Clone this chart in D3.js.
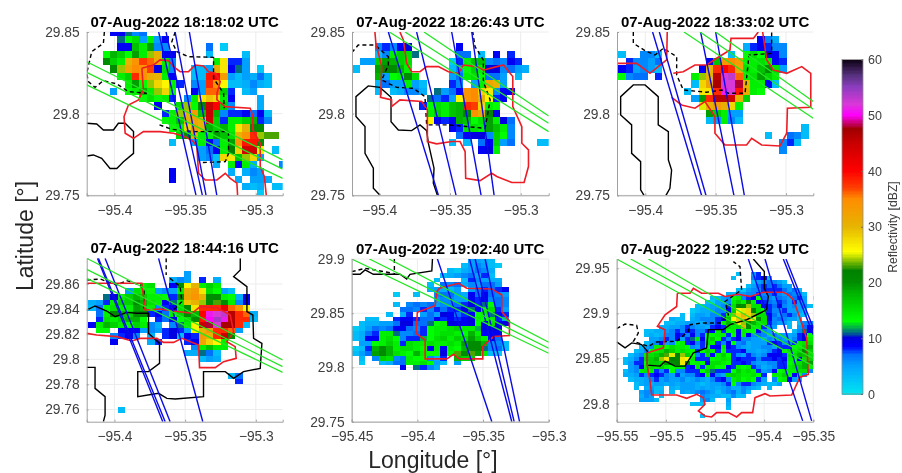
<!DOCTYPE html>
<html>
<head>
<meta charset="utf-8">
<script src="https://cdn.jsdelivr.net/npm/d3@7"></script>
<style>
  html, body { margin: 0; background: #fff; }
  svg { display: block; filter: blur(0.35px); }
  text { font-family: "Liberation Sans", Arial, sans-serif; }
</style>
</head>
<body>
<svg id="chart" width="902" height="473"></svg>
<script>
const _ = null;

const titles = [
  "07-Aug-2022 18:18:02 UTC", "07-Aug-2022 18:26:43 UTC", "07-Aug-2022 18:33:02 UTC",
  "07-Aug-2022 18:44:16 UTC", "07-Aug-2022 19:02:40 UTC", "07-Aug-2022 19:22:52 UTC"
];
const lonRanges = [[-95.4196, -95.281], [-95.4193, -95.2802], [-95.4201, -95.2806],
  [-95.4196, -95.281], [-95.45, -95.3], [-95.55, -95.35]];
const latRanges = [[29.75, 29.85], [29.75, 29.85], [29.75, 29.85],
  [29.7503, 29.8805], [29.75, 29.9], [29.78, 29.9603]];
const lonTicks = [[-95.4, -95.35, -95.3], [-95.4, -95.35, -95.3], [-95.4, -95.35, -95.3],
  [-95.4, -95.35, -95.3], [-95.45, -95.4, -95.35, -95.3], [-95.55, -95.5, -95.45, -95.4, -95.35]];
const latTicks = [[29.75, 29.8, 29.85], [29.75, 29.8, 29.85], [29.75, 29.8, 29.85],
  [29.76, 29.78, 29.8, 29.82, 29.84, 29.86], [29.75, 29.8, 29.85, 29.9], [29.8, 29.85, 29.9, 29.95]];

// radar grid spacing in degrees, and the north-west corner of each panel's grid
const cellLon = 0.0052;
const cellLat = 0.0045;
const gridLon = [-95.4083, -95.4186, -95.4244, -95.4184, -95.45, -95.5432];
const gridLat = [29.852, 29.852, 29.852, 29.8701, 29.9009, 29.946];

// reflectivity in dBZ, one row per latitude: first entry is the starting column
const dbz1 = [
  [1,9,9,11,6,7],
  [2,11,13,15,5,14,5,9],
  [2,9,9,17,14,19,6,6,_,_,_,_,_,7,_,2],
  [0,13,18,16,13,19,14,24,30,9,9,_,_,_,_,3,_,_,_,_,3],
  [0,20,16,14,30,34,37,36,31,14,6,_,_,_,_,_,14,27,8,8,5],
  [1,20,24,32,35,34,37,10,15,6,_,_,3,3,5,31,27,9,11,5,_,2],
  [2,14,16,38,34,31,30,14,9,_,_,3,3,39,40,33,5,3,5,4,7,3],
  [3,14,19,13,24,28,26,14,8,_,6,5,38,34,26,3,3,4,6,4,3],
  [1,5,_,13,14,18,14,24,28,13,_,_,9,5,36,36,16,8,_,3,5],
  [5,13,15,13,14,8,_,6,14,27,29,28,14,9,_,_,_,4],
  [7,9,_,_,15,24,13,21,45,40,16,6,_,_,_,4],
  [8,8,14,24,30,33,17,45,18,6,8,8,9,7,9,3],
  [8,13,14,17,30,32,30,44,16,8,14,14,16,18,8,6],
  [9,13,14,28,33,30,18,16,18,14,27,30,20,20],
  [10,16,20,31,14,14,19,17,15,30,34,38,24,23,23],
  [9,3,_,_,5,14,9,7,14,19,34,39,39,20],
  [13,5,7,9,14,22,28,44,44,26,_,3],
  [13,5,6,3,28,27,17,24,28,5],
  [15,4,_,14,9,14,4,_,_,_,6],
  [9,9,_,_,_,_,_,_,_,4,_,4,6,5],
  [9,9,_,_,_,_,_,_,_,_,4,_,5,5,4],
  [19,4,3,4,_,3,3],
  [21,2]
];
const dbz2 = [
  [], [],
  [3,6,8,6,9,10,_,_,_,_,_,_,9],
  [3,3,6,14,16,15,11,_,_,_,_,_,7,7,_,3,_,9,_,8],
  [1,5,5,16,19,18,16,15,_,_,_,_,_,2,8,14,17,17,6,7,6,9,8],
  [0,3,_,_,19,21,20,18,14,_,_,_,_,_,3,6,13,16,14,10,10,6,7,5,4],
  [3,18,5,13,14,20,15,_,_,_,_,5,7,14,15,13,7,7,5,_,3],
  [3,3,7,5,5,14,5,3,_,_,_,8,6,_,5,14,32,30,5],
  [3,3,_,3,4,6,6,4,_,11,5,7,9,34,35,28,27,6,9,9],
  [10,11,7,8,5,26,34,35,30,26,8,9],
  [9,8,13,15,14,17,18,38,37,28,14,13],
  [10,14,16,14,17,18,21,34,31,21,10],
  [10,26,9,8,9,18,17,13,15,19,14,10,7],
  [13,9,8,15,15,14,19,17,14,6],
  [14,7,9,10,10,6,16,13,6],
  [13,3,_,3,_,7,9,16,5,7,_,_,_,3,3],
  [17,9,10,14]
];
const dbz3 = [
  [],
  [20,9,6,4],
  [18,4,8,9,8,6,6],
  [1,3,_,_,6,6,3,_,_,_,_,_,_,_,_,_,3,_,13,15,13,10,9,6],
  [2,8,6,6,5,7,_,_,_,_,_,_,9,17,34,35,33,14,14,15,14,9,8],
  [1,9,8,5,6,5,3,_,_,_,_,_,9,30,38,40,38,32,15,14,17,20,15,5],
  [1,13,6,7,7,_,8,_,_,_,_,14,24,30,46,52,53,36,14,15,19,16,14],
  [11,3,28,32,47,52,52,48,30,14,14,9,3],
  [10,3,_,27,27,38,51,52,39,31,14,13],
  [11,5,19,38,46,46,44,30,16],
  [12,25,30,33,31,28,14],
  [13,19,16,14,5,5],
  [13,3,5,14,6,3],
  [26,3],
  [21,3,_,_,7,6,3],
  [23,6,8,3],
  [23,6]
];
const dbz4 = [
  [13,5],
  [11,4,6,5,_,8,_,4],
  [7,14,15,_,_,9,20,26,30,14,16,14],
  [5,5,15,14,13,5,6,5,14,31,33,27,15,13,5,3],
  [2,11,10,14,16,18,16,14,14,13,8,20,32,34,30,20,20,14,13,4,9],
  [0,4,5,8,14,16,16,20,18,15,14,9,11,14,29,30,24,20,23,20,14,6,9],
  [0,3,7,13,15,14,14,19,18,14,6,8,9,15,20,27,38,38,38,42,36,34,26],
  [1,7,14,20,18,16,20,20,8,9,7,14,16,20,18,40,51,52,53,46,38,36,4],
  [1,8,15,14,16,18,18,13,_,8,7,9,13,15,20,39,50,54,51,46,38,38,3],
  [0,9,14,18,16,14,13,16,14,6,4,_,6,11,14,26,45,48,52,47,47,38,3],
  [1,13,13,_,9,9,9,5,6,5,8,10,8,5,26,30,34,38,38,36,5],
  [3,6,8,9,6,_,4,_,8,10,3,9,8,33,30,38,45,20],
  [3,9,_,_,_,_,4,8,_,_,_,8,9,32,28,26,14],
  [14,6,14,17,14,14],
  [13,4,4,11,7,3],
  [15,3,5,4],
  [], [],
  [19,3,7],
  [20,8],
  [], [], [], [],
  [4,3]
];
const dbz5 = [
  [17,5,5,4,3],
  [16,3,5,6,5,3,2],
  [14,3,2,4,5,7,6,4],
  [13,3,4,5,6,7,5,8,3],
  [12,3,_,_,_,3,8,6,5,4,4],
  [11,3,_,7,6,7,4,6,5,7,7,5],
  [11,4,5,4,3,5,_,5,7,8,7,8,9],
  [6,2,_,_,3,_,_,6,7,7,5,4,9,7,9,7,6,5],
  [12,5,6,6,5,5,9,8,9,6,7,6],
  [6,3,_,6,7,6,7,5,6,6,7,8,10,8,11,13,7,6],
  [7,7,7,6,8,6,8,7,8,8,10,11,9,14,15,8,5],
  [5,3,_,4,8,_,5,7,5,10,9,7,8,9,13,14,11,9,8],
  [2,3,3,_,_,8,9,9,8,7,7,9,8,9,8,9,10,14,13,14,8,5],
  [1,3,4,4,5,5,7,10,10,7,7,11,13,14,10,10,9,10,13,10,15,9,10],
  [0,2,3,5,7,6,7,9,9,7,6,8,13,14,14,15,16,14,14,12,10,10,10],
  [0,3,4,7,8,14,14,11,6,6,7,8,13,14,15,15,14,13,18,14,9,9,9],
  [0,3,4,9,9,14,15,13,6,8,8,12,13,15,16,14,16,15,19,16,14,9,7],
  [1,5,5,13,14,16,14,8,15,14,14,15,14,14,15,14,19,20,20,18,6,6,3],
  [0,2,3,8,18,20,18,14,15,15,14,13,9,14,9,14,13,18,20,20,11,6,7,3],
  [0,3,5,7,19,20,18,15,14,13,18,14,13,13,10,13,23,20,23,19,14,3,2],
  [1,3,_,6,16,15,6,7,14,13,13,6,4,8,_,18,16,16],
  [1,2,_,_,3,4,7,7,14,14,15,13,5,3,_,5],
  [7,9,_,11,8,6,4]
];
const dbz6 = [
  [22,3,_,_,5,8],
  [21,3,_,_,_,6,8,9,3],
  [25,3,5,6,7,6,5,3],
  [24,3,5,7,8,7,8,7,5,5],
  [22,3,2,5,6,6,8,8,8,8,7,5,7,3],
  [20,4,3,5,5,6,6,8,6,7,8,6,5,7,6,6,3],
  [17,3,3,5,6,13,14,6,8,9,13,7,6,5,7,6,5,7,8,5,_,3],
  [16,3,2,5,5,6,14,16,14,20,14,9,8,7,6,8,7,5,8,5,5],
  [14,3,3,4,5,5,6,8,15,21,20,24,15,15,9,8,7,9,6,5,6,5,6,3],
  [13,2,3,4,4,5,6,6,9,16,26,25,28,22,15,13,8,6,6,8,5,5,5,3],
  [11,3,_,3,5,5,4,6,6,8,14,24,28,30,28,24,15,15,9,7,5,7,8,6,3,3],
  [9,4,3,3,_,4,5,6,6,6,8,9,17,26,29,29,28,27,20,15,9,6,7,6,5,5,3],
  [8,3,3,4,4,5,5,4,4,6,6,8,14,18,16,27,24,21,18,15,15,8,6,5,5,3,_,3,6,6,4],
  [7,4,4,5,5,6,8,6,5,5,4,8,9,8,15,14,15,30,20,14,14,8,6,5,_,_,3,_,5,7,9,10],
  [4,3,3,4,4,5,6,8,6,9,8,6,6,8,9,14,8,13,14,9,14,13,13,9,6,5,_,_,_,_,3,6,11,9,11],
  [4,3,4,3,4,6,6,9,8,6,9,6,8,14,13,14,14,8,13,9,14,9,6,7,6,4,6,5,5,4,5,8,10,13,14],
  [5,5,5,6,8,6,9,5,8,11,14,9,14,16,13,8,6,8,9,6,6,5,5,4,6,5,6,5,4,6,8,10,14,13],
  [4,3,5,6,9,5,6,13,14,8,9,6,8,15,14,8,6,9,13,6,7,4,5,5,5,8,9,8,6,6,8,14,15,15,13],
  [3,3,5,6,14,14,13,15,14,14,13,6,5,8,13,9,9,14,9,8,6,5,4,5,5,6,6,5,8,8,8,13,14,16,18,14],
  [2,3,4,6,13,14,15,18,16,14,15,14,13,8,13,16,14,8,13,8,8,8,9,5,5,4,5,6,8,9,13,15,14,16,21,16,13],
  [1,3,5,6,14,15,16,18,23,25,22,24,16,13,6,8,15,9,14,16,13,8,6,5,8,6,5,6,9,9,9,8,15,15,18,17,15,9],
  [0,3,4,6,8,15,16,18,24,27,22,21,27,26,14,8,8,8,13,14,15,14,8,9,8,8,8,6,8,8,9,8,9,14,13,9,15,16,8],
  [0,3,5,8,8,13,16,16,15,19,20,21,27,21,13,14,13,9,15,15,14,13,8,8,9,8,6,5,5,6,6,8,8,13,14,15,18,19,13],
  [1,5,6,9,14,15,14,16,14,13,14,14,8,9,14,8,14,15,13,13,9,8,14,13,14,8,6,4,5,6,8,8,14,15,16,18,14,5],
  [0,3,5,6,14,15,14,8,6,8,13,6,6,8,8,8,13,16,11,8,8,8,13,16,14,15,14,8,5,6,9,13,14,14,14,15,15,6],
  [0,4,4,5,8,6,8,9,8,6,5,8,5,6,6,8,9,14,9,6,5,15,16,15,14,14,15,13,8,_,14,14,16,13,9,13,6],
  [1,3,4,4,5,6,8,5,6,5,5,6,4,5,6,5,4,6,8,9,6,14,15,13,14,13,8,5,_,6,13,14,9,5,3],
  [2,3,4,5,4,5,5,4,5,4,5,5,5,4,3,4,5,5,6,8,13,6,8,8,6,5,4,3,3,5],
  [2,3,_,4,5,3,3,_,4,3,5,5,5,4,5,4,5,4,5,6,4,4,6,5,4,3,_,3],
  [3,5,6,6,3,4,_,3,_,5,4,5,6,7,6,5,3,5,6,7,4,6,3],
  [3,4,6,5,_,3,_,_,_,_,_,_,_,6,5,4,4,3,3,6,3,3],
  [3,5,5,5,3,_,_,_,_,_,_,_,_,5,6,3,_,_,5],
  [13,3,3,3,_,_,_,_,4],
  [20,3],
  [],
  [15,3]
];

// overlay traces as [lon, lat] vertices: blue and green tracks, red and black outlines
const blue1 = [[[-95.3687,29.85],[-95.3423,29.75]], [[-95.3635,29.85],[-95.3378,29.75]],
  [[-95.3571,29.85],[-95.3352,29.75]], [[-95.347,29.85],[-95.3276,29.75]]];
const green1 = [[[-95.4196,29.8318],[-95.281,29.7717]], [[-95.4196,29.8253],[-95.281,29.766]],
  [[-95.4196,29.8176],[-95.281,29.7604]]];
const red1 = [[[-95.3806,29.8278],[-95.3724,29.8298],[-95.3677,29.8329],[-95.3618,29.8325],[-95.3582,29.8288],[-95.3535,29.8257],[-95.3476,29.8257],[-95.3429,29.8298],[-95.337,29.8292],[-95.3334,29.8257],[-95.3287,29.8247],[-95.3252,29.8196],[-95.3275,29.8125],[-95.3275,29.8084],[-95.3216,29.8043],[-95.304,29.8033],[-95.3021,29.7982],[-95.3021,29.79],[-95.2969,29.7819],[-95.2969,29.7676],[-95.294,29.7615],[-95.2926,29.75]],
  [[-95.3129,29.75],[-95.3134,29.7574],[-95.3181,29.7604],[-95.3216,29.7635],[-95.3275,29.7594],[-95.3358,29.7594],[-95.3405,29.7635],[-95.3417,29.7798],[-95.3441,29.7829],[-95.35,29.7859],[-95.3582,29.788],[-95.3677,29.789],[-95.3795,29.789],[-95.3865,29.7849],[-95.3924,29.788],[-95.3932,29.7982],[-95.3901,29.8053],[-95.383,29.8084],[-95.3795,29.8145],[-95.3806,29.8278]]];
const black1 = [[[-95.4196,29.7941],[-95.4125,29.7937],[-95.4078,29.79],[-95.4007,29.79],[-95.3972,29.7941],[-95.3924,29.7941],[-95.3865,29.789],[-95.3865,29.7757],[-95.3936,29.7706],[-95.3983,29.7664],[-95.4031,29.7664],[-95.409,29.7727],[-95.4149,29.7747],[-95.4196,29.7741]]];
const dashed1 = [[[-95.4071,29.85],[-95.4078,29.8431],[-95.416,29.838],[-95.4196,29.8247],[-95.4184,29.8196],[-95.4137,29.8161],[-95.4078,29.8202],[-95.3983,29.8182],[-95.3901,29.8135],[-95.3771,29.8125]],
  [[-95.357,29.85],[-95.3594,29.8441],[-95.3559,29.838],[-95.3476,29.8349],[-95.3299,29.8345],[-95.3299,29.8216],[-95.3228,29.8125],[-95.3224,29.8033]],
  [[-95.3681,29.7931],[-95.3594,29.7904],[-95.3441,29.789],[-95.3193,29.789],[-95.3193,29.7757],[-95.3216,29.7706],[-95.3393,29.77]]];

const blue2 = [[[-95.3936,29.85],[-95.3582,29.75]], [[-95.3736,29.85],[-95.3457,29.75]],
  [[-95.3488,29.85],[-95.328,29.75]], [[-95.3346,29.85],[-95.3188,29.75]]];
const green2 = [[[-95.3929,29.85],[-95.2802,29.789]], [[-95.3818,29.85],[-95.2802,29.7941]],
  [[-95.3684,29.85],[-95.2802,29.7986]]];
const red2 = [[[-95.4031,29.85],[-95.4024,29.8431],[-95.3983,29.8288],[-95.3991,29.81],[-95.3913,29.8084],[-95.3913,29.8043],[-95.3854,29.8084],[-95.37,29.8074],[-95.366,29.8023],[-95.366,29.7829],[-95.3594,29.7815],[-95.3488,29.7829],[-95.3429,29.7829],[-95.3393,29.7768],[-95.3389,29.7604],[-95.3287,29.759],[-95.3205,29.7635],[-95.3169,29.7615],[-95.3063,29.7578],[-95.2976,29.7578],[-95.2945,29.7676],[-95.2945,29.7778],[-95.2992,29.7819],[-95.2992,29.7921],[-95.3056,29.8043],[-95.3056,29.8227],[-95.3122,29.8298],[-95.3264,29.8267],[-95.3311,29.8288],[-95.3405,29.8298],[-95.3441,29.8247],[-95.3511,29.8257],[-95.3582,29.8288],[-95.3665,29.8288],[-95.3712,29.8257],[-95.3771,29.8257],[-95.3806,29.8308],[-95.383,29.8451],[-95.3854,29.85]]];
const black2 = [[[-95.3995,29.75],[-95.4042,29.7543],[-95.4042,29.7666],[-95.4101,29.7757],[-95.4101,29.7921],[-95.4165,29.7982],[-95.4165,29.8104],[-95.4078,29.817],[-95.3995,29.8161],[-95.3917,29.81],[-95.3917,29.7951],[-95.3865,29.79],[-95.3771,29.7896],[-95.3712,29.7931],[-95.3665,29.7896],[-95.3653,29.7819],[-95.3613,29.7666],[-95.3618,29.7574],[-95.3589,29.75]]];
const dashed2 = [[[-95.4194,29.8374],[-95.4149,29.842],[-95.4031,29.842],[-95.3936,29.8349],[-95.3936,29.8298],[-95.3983,29.8206],[-95.3877,29.8161],[-95.3759,29.8155],[-95.3677,29.8104],[-95.3665,29.7931],[-95.3511,29.7931],[-95.3382,29.7921],[-95.3252,29.791],[-95.3216,29.8084],[-95.3264,29.8196],[-95.3264,29.8329],[-95.3323,29.841],[-95.3339,29.85]]];

const blue3 = [[[-95.3948,29.85],[-95.36,29.75]], [[-95.39,29.85],[-95.3569,29.75]],
  [[-95.3607,29.85],[-95.337,29.75]], [[-95.35,29.85],[-95.3296,29.75]]];
const green3 = [[[-95.3725,29.85],[-95.2806,29.7972]], [[-95.3611,29.85],[-95.2806,29.8027]],
  [[-95.35,29.85],[-95.2806,29.8074]]];
const red3 = [[[-95.4201,29.8308],[-95.4062,29.8308],[-95.3967,29.8247],[-95.3908,29.8288],[-95.3848,29.8329],[-95.3844,29.85]],
  [[-95.3801,29.8247],[-95.373,29.8257],[-95.3647,29.8298],[-95.3564,29.8298],[-95.3493,29.8339],[-95.3398,29.839],[-95.3391,29.8461],[-95.3232,29.8461],[-95.3197,29.85]],
  [[-95.3166,29.85],[-95.3137,29.8329],[-95.309,29.8267],[-95.2995,29.8247],[-95.2888,29.8288],[-95.2824,29.8247],[-95.2824,29.8039],[-95.299,29.8033],[-95.2995,29.788],[-95.3043,29.7802],[-95.3173,29.7808],[-95.3244,29.7849],[-95.328,29.7808],[-95.3434,29.7808],[-95.3505,29.788],[-95.3505,29.7982],[-95.3576,29.8074],[-95.3647,29.8033],[-95.3742,29.8053],[-95.3813,29.81]]];
const black3 = [[[-95.4009,29.75],[-95.4033,29.7533],[-95.4033,29.7706],[-95.4097,29.7757],[-95.4097,29.7931],[-95.4175,29.7992],[-95.4175,29.8104],[-95.4085,29.8176],[-95.4002,29.8176],[-95.3908,29.8104],[-95.3908,29.7931],[-95.3836,29.789],[-95.3836,29.7717],[-95.3813,29.7655],[-95.3825,29.7543],[-95.3853,29.75]]];
const dashed3 = [[[-95.4085,29.85],[-95.4085,29.8431],[-95.4002,29.8386],[-95.3931,29.8359],[-95.3872,29.84],[-95.3777,29.8349],[-95.3777,29.8237],[-95.373,29.8145],[-95.3564,29.8131],[-95.3457,29.8145],[-95.341,29.8125],[-95.3291,29.8125],[-95.3263,29.8359],[-95.3102,29.8369],[-95.3102,29.85]]];

const blue4 = [[[-95.412,29.8805],[-95.3658,29.7503]], [[-95.4113,29.8805],[-95.3641,29.7503]],
  [[-95.4066,29.8805],[-95.3606,29.7503]], [[-95.3688,29.8805],[-95.3375,29.7503]]];
const green4 = [[[-95.4196,29.8805],[-95.281,29.7995]], [[-95.4196,29.8717],[-95.281,29.7942]],
  [[-95.4196,29.8645],[-95.281,29.7896]]];
const red4 = [[[-95.4196,29.8606],[-95.3806,29.8606],[-95.3783,29.8393],[-95.3677,29.8401],[-95.3582,29.8385],[-95.3452,29.8367],[-95.3393,29.842],[-95.3275,29.8412],[-95.3181,29.8353],[-95.3157,29.822],[-95.3205,29.8141],[-95.3146,29.8101],[-95.3139,29.8008],[-95.3228,29.7981],[-95.3287,29.7934],[-95.3398,29.7934],[-95.3405,29.8114],[-95.3523,29.8167],[-95.3582,29.8135],[-95.3653,29.8135],[-95.37,29.8167],[-95.3818,29.8167],[-95.3877,29.8146],[-95.3983,29.8181],[-95.4125,29.8194],[-95.4196,29.8207]]];
const black4 = [[[-95.311,29.8805],[-95.311,29.8712],[-95.3157,29.8659],[-95.3063,29.8579],[-95.3063,29.838],[-95.3021,29.8353],[-95.3016,29.8167],[-95.2957,29.8127],[-95.2969,29.7928],[-95.3087,29.7902],[-95.3157,29.7849],[-95.3216,29.7902],[-95.337,29.7902],[-95.337,29.7703],[-95.357,29.7684],[-95.3629,29.7689],[-95.3688,29.7729],[-95.3835,29.7703],[-95.3835,29.7902],[-95.3759,29.7902],[-95.3681,29.7968],[-95.3681,29.8127],[-95.3759,29.8207],[-95.3759,29.8367],[-95.3842,29.8367],[-95.3913,29.8374],[-95.3995,29.834],[-95.4054,29.8385],[-95.4137,29.8425],[-95.4196,29.8393]],
  [[-95.4196,29.7936],[-95.4137,29.7936],[-95.4137,29.7769],[-95.4066,29.7703],[-95.4066,29.7556],[-95.4078,29.7503]]];
const dashed4 = [[[-95.3634,29.8805],[-95.3634,29.8672]],
  [[-95.4196,29.8632],[-95.4101,29.864],[-95.3983,29.8592],[-95.3913,29.8627],[-95.3818,29.8592],[-95.379,29.8552],[-95.379,29.8393]],
  [[-95.3606,29.8645],[-95.3535,29.8579],[-95.3523,29.846],[-95.3582,29.8393]]];

const blue5 = [[[-95.3847,29.9],[-95.3433,29.75]], [[-95.3603,29.9],[-95.3281,29.75]],
  [[-95.356,29.9],[-95.3263,29.75]], [[-95.3484,29.9],[-95.3222,29.75]]];
const green5 = [[[-95.45,29.9],[-95.3,29.8131]], [[-95.4365,29.9],[-95.3,29.8177]],
  [[-95.4216,29.9],[-95.3,29.8233]]];
const red5 = [[[-95.3832,29.873],[-95.3687,29.8776],[-95.3624,29.873],[-95.3433,29.8724],[-95.3357,29.8668],[-95.3357,29.8515],[-95.3299,29.8429],[-95.3299,29.8294],[-95.342,29.8285],[-95.3502,29.8193],[-95.3502,29.8079],[-95.368,29.8079],[-95.3725,29.8122],[-95.3776,29.8079],[-95.3941,29.8079],[-95.3941,29.8254],[-95.401,29.8315],[-95.4,29.8509],[-95.3865,29.857],[-95.3852,29.8699],[-95.3832,29.873]]];
const black5 = [[[-95.45,29.8859],[-95.4436,29.8859],[-95.4398,29.8899],[-95.4335,29.8859],[-95.4132,29.8859],[-95.4081,29.8816],[-95.4056,29.8859],[-95.389,29.889],[-95.3885,29.9]]];
const dashed5 = [[[-95.45,29.8883],[-95.4398,29.8914],[-95.4183,29.8868]], [[-95.4175,29.9],[-95.4175,29.8859]]];

const blue6 = [[[-95.4161,29.9603],[-95.3608,29.7809]], [[-95.3991,29.9603],[-95.3517,29.7809]],
  [[-95.3805,29.9603],[-95.35,29.8765]], [[-95.3778,29.9603],[-95.35,29.8838]]];
const green6 = [[[-95.55,29.9603],[-95.35,29.8416]], [[-95.5358,29.9603],[-95.35,29.85]],
  [[-95.5178,29.9603],[-95.35,29.8552]]];
const red6 = [[[-95.4883,29.9224],[-95.4754,29.9224],[-95.472,29.9279],[-95.4636,29.9224],[-95.4466,29.9224],[-95.4398,29.9188],[-95.4263,29.9213],[-95.4144,29.9188],[-95.4008,29.9235],[-95.3805,29.9235],[-95.3754,29.9206],[-95.3703,29.9151],[-95.3636,29.8949],[-95.3568,29.8728],[-95.3551,29.8324],[-95.3636,29.8294],[-95.372,29.8096],[-95.3941,29.8085],[-95.3991,29.811],[-95.4093,29.8066],[-95.4117,29.7901],[-95.4229,29.7901],[-95.428,29.7853],[-95.4364,29.7901],[-95.4483,29.7901],[-95.4534,29.7853],[-95.4602,29.7864],[-95.4669,29.7919],[-95.4602,29.7993],[-95.4619,29.8066],[-95.4686,29.8103],[-95.4788,29.8059],[-95.489,29.8096],[-95.5144,29.8096],[-95.5161,29.825],[-95.5188,29.8416],[-95.5188,29.8563],[-95.5025,29.8618],[-95.5008,29.882],[-95.5086,29.8857],[-95.5008,29.8985],[-95.489,29.9077],[-95.4883,29.9224]]];
const black6 = [[[-95.55,29.8684],[-95.5415,29.8618],[-95.5347,29.8673],[-95.5246,29.8655],[-95.5188,29.8581],[-95.5188,29.8427],[-95.5059,29.8416],[-95.5008,29.8471],[-95.4907,29.8416],[-95.4805,29.8416],[-95.472,29.8563],[-95.4585,29.8618],[-95.4568,29.882],[-95.4415,29.882],[-95.4347,29.8875],[-95.4178,29.893],[-95.3975,29.904],[-95.3958,29.9188],[-95.3998,29.9279],[-95.3998,29.9463],[-95.411,29.9603]]];
const dashed6 = [[[-95.55,29.8831],[-95.5415,29.8882],[-95.5297,29.8868],[-95.528,29.8783],[-95.533,29.8691],[-95.5178,29.8636],[-95.5093,29.8684],[-95.489,29.8691],[-95.4771,29.8802],[-95.4754,29.8875],[-95.4636,29.8893],[-95.4449,29.8893],[-95.4364,29.8985],[-95.4398,29.9132],[-95.4229,29.9261],[-95.4246,29.9518],[-95.4313,29.9574]]];

const dbzTicks = [0, 10, 20, 30, 40, 50, 60];
const colorStops = [0, 5, 7, 8.5, 10, 11, 13, 18, 20, 22, 24, 25.5, 30, 35, 37, 40, 45, 47.5, 50, 52, 55, 57, 60];
const colorRange = ["#00e6f0", "#00a0ff", "#0070ff", "#0000ff", "#0000e0", "#006e82", "#00ff00", "#00b400", "#008c00",
  "#008200", "#96c800", "#ffff00", "#e6b400", "#ff8c00", "#ff3c00", "#ff0000", "#c80000", "#a00000",
  "#ff00ff", "#d838d8", "#8c3cbe", "#5a3282", "#0a000f"];

const color = d3.scaleLinear().domain(colorStops).range(colorRange);

const grids = [dbz1, dbz2, dbz3, dbz4, dbz5, dbz6];
const blues = [blue1, blue2, blue3, blue4, blue5, blue6];
const greens = [green1, green2, green3, green4, green5, green6];
const reds = [red1, red2, red3, red4, red5, red6];
const blacks = [black1, black2, black3, black4, black5, black6];
const dashes = [dashed1, dashed2, dashed3, dashed4, dashed5, dashed6];

const boxes = [
  { left: 86.7, right: 282.7, top: 32, bottom: 195.3 },
  { left: 352, right: 548.7, top: 32, bottom: 195.3 },
  { left: 617, right: 813.3, top: 32, bottom: 195.3 },
  { left: 86.7, right: 282.7, top: 258.3, bottom: 421.7 },
  { left: 351.7, right: 548.7, top: 259, bottom: 421.7 },
  { left: 616.7, right: 813.3, top: 259, bottom: 421.7 }
];

const svg = d3.select("#chart");
const ink = "#404040";

titles.forEach((title, i) => {
  const box = boxes[i];
  const x = d3.scaleLinear().domain(lonRanges[i]).range([box.left, box.right]);
  const y = d3.scaleLinear().domain(latRanges[i]).range([box.bottom, box.top]);
  const g = svg.append("g");

  g.append("clipPath").attr("id", "clip" + i).append("rect")
    .attr("x", box.left).attr("y", box.top)
    .attr("width", box.right - box.left).attr("height", box.bottom - box.top);

  // faint grid
  g.append("g").selectAll("line").data(lonTicks[i]).join("line")
    .attr("x1", d => x(d)).attr("x2", d => x(d))
    .attr("y1", box.top).attr("y2", box.bottom)
    .attr("stroke", "#ececec");
  g.append("g").selectAll("line").data(latTicks[i]).join("line")
    .attr("y1", d => y(d)).attr("y2", d => y(d))
    .attr("x1", box.left).attr("x2", box.right)
    .attr("stroke", "#ececec");

  const plot = g.append("g").attr("clip-path", "url(#clip" + i + ")");

  const cells = [];
  grids[i].forEach((row, r) => {
    row.slice(1).forEach((v, k) => {
      if (v !== null) cells.push({ col: row[0] + k, row: r, v: v });
    });
  });
  plot.append("g").attr("shape-rendering", "crispEdges")
    .selectAll("rect").data(cells).join("rect")
    .attr("x", d => x(gridLon[i] + d.col * cellLon))
    .attr("y", d => y(gridLat[i] - d.row * cellLat))
    .attr("width", d => x(gridLon[i] + (d.col + 1) * cellLon) - x(gridLon[i] + d.col * cellLon))
    .attr("height", d => y(gridLat[i] - (d.row + 1) * cellLat) - y(gridLat[i] - d.row * cellLat))
    .attr("fill", d => color(d.v));

  const line = d3.line().x(d => x(d[0])).y(d => y(d[1]));
  const trace = (data, stroke, width, dash) => {
    plot.append("g").selectAll("path").data(data).join("path")
      .attr("d", line).attr("fill", "none")
      .attr("stroke", stroke).attr("stroke-width", width)
      .attr("stroke-dasharray", dash);
  };
  trace(blacks[i], "#000", 1.4, null);
  trace(dashes[i], "#000", 1.4, "4 3");
  trace(reds[i], "#ee1c25", 1.6, null);
  trace(blues[i], "#0a0ae6", 1.4, null);
  trace(greens[i], "#22e622", 1.25, null);

  // axes: left and bottom only
  const xAxis = g.append("g").attr("transform", "translate(0," + box.bottom + ")")
    .call(d3.axisBottom(x).tickValues(lonTicks[i]).tickSize(-2).tickPadding(10)
      .tickFormat(d3.format("")));
  const yAxis = g.append("g").attr("transform", "translate(" + box.left + ",0)")
    .call(d3.axisLeft(y).tickValues(latTicks[i]).tickSize(-2).tickPadding(7)
      .tickFormat(d3.format("")));
  [xAxis, yAxis].forEach(a => {
    a.select(".domain").attr("stroke", "#a0a0a0");
    a.selectAll(".tick line").attr("stroke", "#a0a0a0");
    a.selectAll("text").attr("fill", ink).style("font-size", "13.8px")
      .style("font-family", "'Liberation Sans', Arial, sans-serif");
  });

  g.append("text")
    .attr("x", (box.left + box.right) / 2).attr("y", box.top - 5.5)
    .attr("text-anchor", "middle").attr("font-weight", "bold")
    .attr("font-size", 15).attr("fill", "#000").text(title);
});

// shared axis labels
svg.append("text").attr("transform", "translate(33,236) rotate(-90)")
  .attr("text-anchor", "middle").attr("font-size", 23).attr("fill", "#262626").text("Latitude [°]");
svg.append("text").attr("x", 433).attr("y", 468)
  .attr("text-anchor", "middle").attr("font-size", 23).attr("fill", "#262626").text("Longitude [°]");

// colour bar
const barY = d3.scaleLinear().domain([0, 60]).range([394, 59.5]);
const barLeft = 842;
const barRight = 863;
const barSteps = d3.range(0, 60, 0.25);
svg.append("g").attr("shape-rendering", "crispEdges")
  .selectAll("rect").data(barSteps).join("rect")
  .attr("x", barLeft).attr("width", barRight - barLeft)
  .attr("y", d => barY(d + 0.25)).attr("height", d => barY(d) - barY(d + 0.25) + 0.5)
  .attr("fill", d => color(d));
svg.append("rect").attr("x", barLeft).attr("y", barY(60))
  .attr("width", barRight - barLeft).attr("height", barY(0) - barY(60))
  .attr("fill", "none").attr("stroke", "#8c8c8c").attr("stroke-width", 0.8);
const barAxis = svg.append("g").attr("transform", "translate(" + barRight + ",0)")
  .call(d3.axisRight(barY).tickValues(dbzTicks).tickSize(-2).tickPadding(5));
barAxis.select(".domain").remove();
barAxis.selectAll(".tick line").attr("stroke", "#6c6c6c");
barAxis.selectAll("text").attr("fill", ink).style("font-size", "12.5px")
  .style("font-family", "'Liberation Sans', Arial, sans-serif");
svg.append("text").attr("transform", "translate(897,227) rotate(-90)")
  .attr("text-anchor", "middle").attr("font-size", 12.2).attr("fill", ink).text("Reflectivity [dBZ]");
</script>
</body>
</html>
